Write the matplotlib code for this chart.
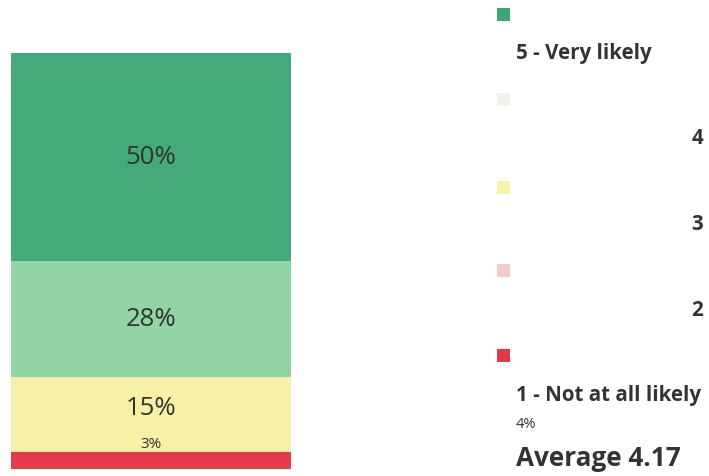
import matplotlib.pyplot as plt
from matplotlib.patches import Rectangle

plt.rcParams["font.family"] = ["Open Sans", "DejaVu Sans"]

# data, bottom to top
ratings = ["1 - Not at all likely", "2", "3", "4", "5 - Very likely"]
shares = [4, 3, 15, 28, 50]
bar_colors = ["#e63b4a", "#f6f1a6", "#f6f1a6", "#92d4a6", "#44aa7c"]
legend_colors = ["#e6364a", "#f7c9c9", "#f6f2a8", "#eef4ec", "#3fa777"]
average = 4.17

TXT = "#333333"

fig = plt.figure(figsize=(7.09, 4.76), dpi=100)
ax = fig.add_axes([11/709, 1 - 469/476, 280/709, 416/476])

bottom = 0
for r, v, c in zip(ratings, shares, bar_colors):
    ax.bar(0, v, bottom=bottom, width=1.0, color=c, edgecolor="none")
    bottom += v
ax.set_xlim(-0.5, 0.5)
ax.set_ylim(0, sum(shares))
ax.axis("off")

# in-bar labels (the 1 share is written next to the legend)
lab_y = {"5 - Very likely": 75, "4": 36, "3": 14.5, "2": 6.0}
for r, v in zip(ratings, shares):
    if r in lab_y:
        ax.text(0, lab_y[r], f"{v}%", ha="center", va="center",
                fontsize=11 if v < 5 else 18.5, color=TXT)

# hand-made legend on the right
ys = [355, 270, 187, 99, 14]
label_y = [396, 310, 225, 138, 53]
for r, c, my, ly in zip(ratings, legend_colors, ys, label_y):
    fig.add_artist(Rectangle((497/709, 1 - (my + 7)/476), 13/709, 13/476,
                             transform=fig.transFigure, color=c, lw=0))
    if r[0] in "15":
        fig.text(516/709, 1 - ly/476, r, ha="left", va="center",
                 fontsize=14.8, fontweight="bold", color=TXT)
    else:
        fig.text(703/709, 1 - ly/476, r, ha="right", va="center",
                 fontsize=14.8, fontweight="bold", color=TXT)

fig.text(516/709, 1 - 425/476, f"{shares[0]}%", ha="left", va="center",
         fontsize=10.5, color=TXT)
fig.text(516/709, 1 - 459/476, f"Average {average}", ha="left", va="center",
         fontsize=18.8, fontweight="bold", color=TXT)

fig.savefig("out.png", dpi=100)
